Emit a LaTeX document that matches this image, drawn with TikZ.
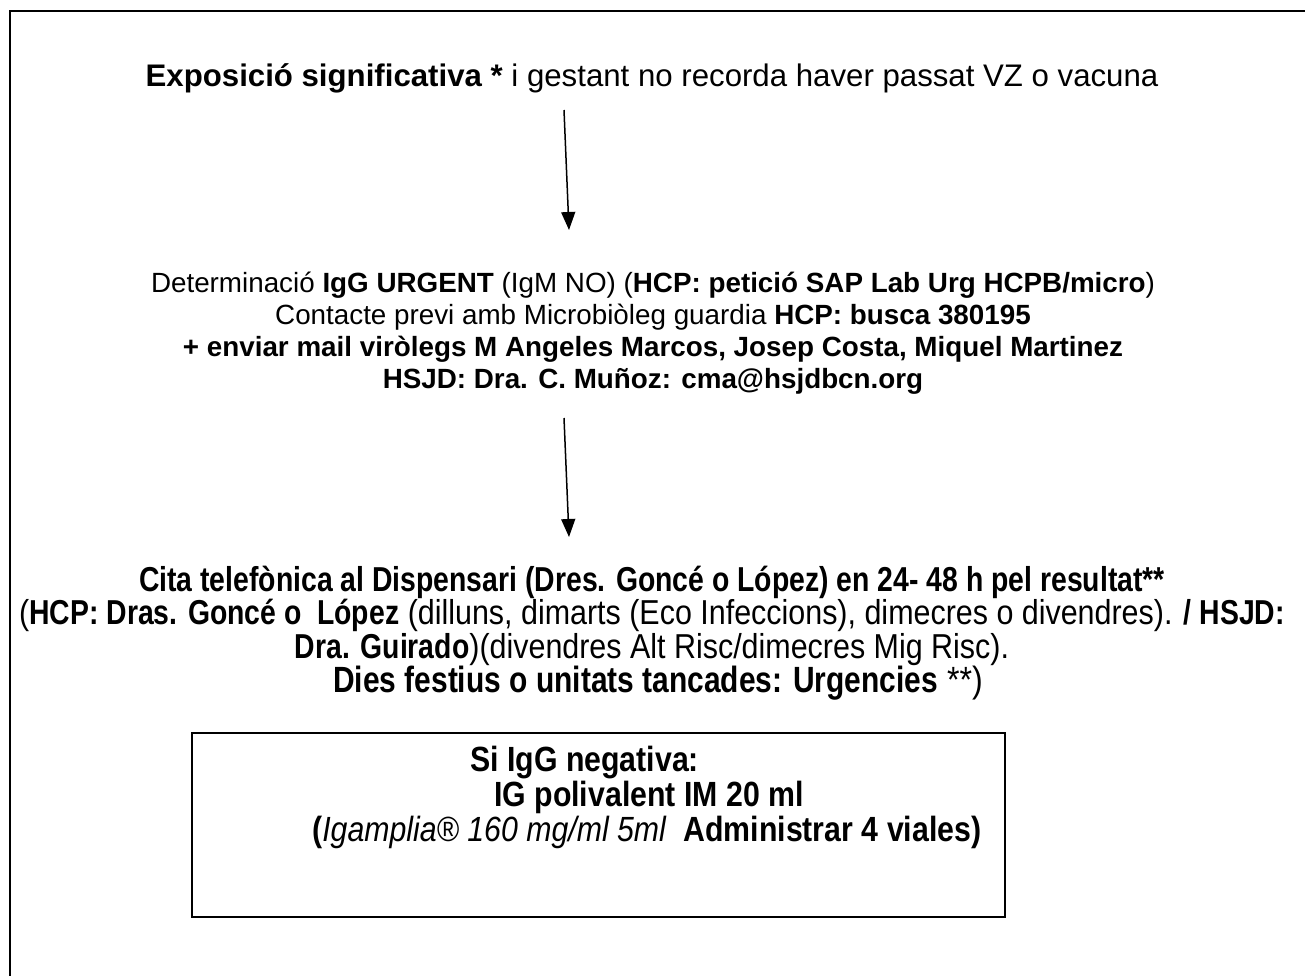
\documentclass[tikz,border=0pt]{standalone}
\usepackage{fontspec}
\setmainfont{Liberation Sans}
\newfontfamily\narrowfont[FakeStretch=0.88,BoldFeatures={FakeStretch=0.82},ItalicFeatures={FakeStretch=0.82}]{Liberation Sans}
\newfontfamily\boxfont[FakeStretch=0.86,BoldFeatures={FakeStretch=0.865},ItalicFeatures={FakeStretch=0.865}]{Liberation Sans}
\usetikzlibrary{arrows.meta}
\begin{document}
\begin{tikzpicture}[x=1pt,y=-1pt,
  frameline/.style={line width=2.4pt,line cap=rect},
  txt/.style={inner sep=0pt,align=center,font=\fontsize{27.8}{32}\selectfont},
  ntxt/.style={inner sep=0pt,align=center,font=\narrowfont\fontsize{34.6}{33.5}\selectfont},
  btxt/.style={inner sep=0pt,anchor=west,font=\boxfont\fontsize{35}{34}\selectfont\bfseries},
  flow/.style={line width=1.5pt,-{Triangle[length=18pt,width=14pt]}}]
\useasboundingbox (0,0) rectangle (1305,975);
% frame (cut at right and bottom)
\draw[frameline] (10,980) -- (10,11) -- (1310,11);
% block 1
\node[txt,font=\fontsize{31.2}{36}\selectfont] (b1) at (652,78) {\textbf{Exposició significativa *} i gestant no recorda haver passat VZ o vacuna};
% block 2
\node[txt] (b2) at (653,333) {Determinació \textbf{IgG URGENT} (IgM NO) (\textbf{HCP: petició SAP Lab Urg HCPB/micro})\\
Contacte previ amb Microbiòleg guardia \textbf{HCP: busca 380195}\\
\textbf{+ enviar mail viròlegs M Angeles Marcos, Josep Costa, Miquel Martinez}\\
\textbf{HSJD: Dra. C. Muñoz: cma@hsjdbcn.org}};
% block 3
\node[ntxt] (b3) at (652,633) {\textbf{Cita telefònica al Dispensari (Dres. Goncé o López) en 24- 48 h pel resultat**}\\
(\textbf{HCP: Dras. Goncé o\ \ López} (dilluns, dimarts (Eco Infeccions), dimecres o divendres). \textbf{/ HSJD:}\\
\textbf{Dra. Guirado})(divendres Alt Risc/dimecres Mig Risc).\\
{\fontsize{36.5}{33.5}\selectfont\hspace*{12pt}\textbf{Dies festius o unitats tancades: Urgencies} **)}};
% arrows
\coordinate (a1s) at (564,110);
\coordinate (a1e) at (569,230);
\coordinate (a2s) at (564,418);
\coordinate (a2e) at (569,537);
\draw[flow] (a1s) -- (a1e);
\draw[flow] (a2s) -- (a2e);
% box
\node[draw,line width=2.4pt,minimum width=813pt,minimum height=184pt,inner sep=0pt] (box) at (598.5,825) {};
\node[btxt] (l1) at (470,763) {Si IgG negativa:};
\node[btxt] (l2) at (494,797.5) {IG polivalent IM 20 ml};
\node[btxt] (l3) at (312,832) {(\textit{\mdseries Igamplia® 160 mg/ml 5ml}\ \ Administrar 4 viales)};
\end{tikzpicture}
\end{document}
